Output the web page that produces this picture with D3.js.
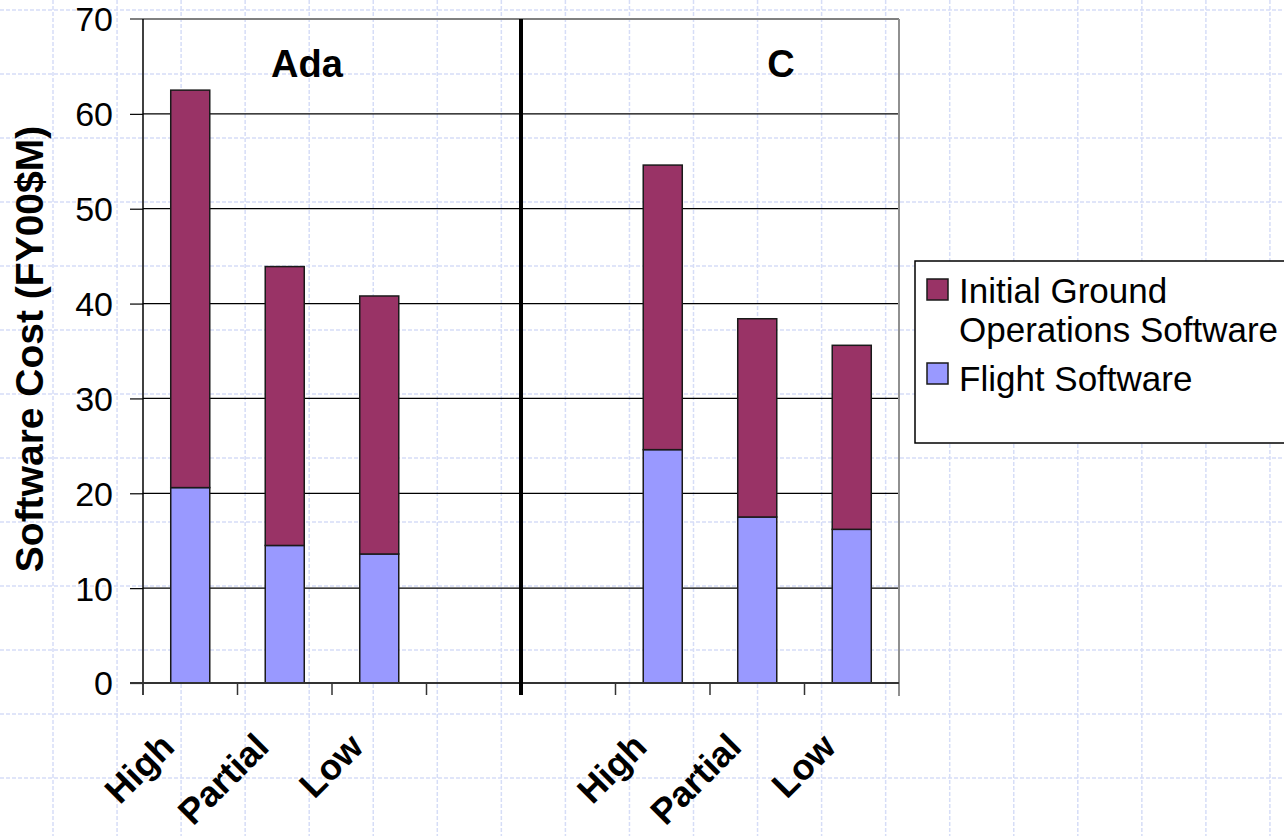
<!DOCTYPE html>
<html>
<head>
<meta charset="utf-8">
<script src="https://cdn.jsdelivr.net/npm/d3@7"></script>
<style>
  html, body { margin: 0; padding: 0; background: #fff; }
  svg { display: block; font-family: "Liberation Sans", Arial, sans-serif; }
</style>
</head>
<body>
<svg id="chart" width="1284" height="836"></svg>
<script>
// ---- data ----
const categories = ["Ada-High", "Ada-Partial", "Ada-Low", "Ada-gap", "C-gap", "C-High", "C-Partial", "C-Low"];
const tickLabels = ["High", "Partial", "Low", "", "", "High", "Partial", "Low"];
const flightSoftware = [20.6, 14.5, 13.6, null, null, 24.6, 17.5, 16.2];
const groundSoftware = [41.9, 29.4, 27.2, null, null, 30.0, 20.9, 19.4];
const seriesNames = ["Flight Software", "Initial Ground Operations Software"];
const seriesKeys = ["flight", "ground"];
const groupLabels = ["Ada", "C"];
const yTicks = [0, 10, 20, 30, 40, 50, 60, 70];

const colors = { flight: "#9999FF", ground: "#993366" };

const W = 1284, H = 836;
const plot = { left: 143, right: 899, top: 19, bottom: 683 };

const svg = d3.select("#chart");

// ---- background dashed grid ----
const bg = svg.append("g");
const gx0 = 53, gdx = 64.05, gy0 = 10, gdy = 64;
for (let x = gx0; x < W; x += gdx) {
  bg.append("line").attr("x1", x).attr("x2", x).attr("y1", 0).attr("y2", H)
    .attr("stroke", "#d6ddf7").attr("stroke-width", 1.5).attr("stroke-dasharray", "4,2");
}
for (let y = gy0; y < H; y += gdy) {
  bg.append("line").attr("x1", 0).attr("x2", W).attr("y1", y).attr("y2", y)
    .attr("stroke", "#d6ddf7").attr("stroke-width", 1.5).attr("stroke-dasharray", "4,2");
}

// ---- scales ----
const x = d3.scaleBand().domain(categories).range([plot.left, plot.right])
  .paddingInner(0.587).paddingOuter(0.2935);
const y = d3.scaleLinear().domain([0, 70]).range([plot.bottom, plot.top]);

const step = x.step();
const boundary = i => plot.left + i * step;

// ---- gridlines ----
const grid = svg.append("g");
yTicks.filter(v => v > 0 && v < 70).forEach(v => {
  grid.append("line").attr("x1", plot.left).attr("x2", plot.right)
    .attr("y1", y(v)).attr("y2", y(v)).attr("stroke", "#000").attr("stroke-width", 1.2);
});

// ---- bars ----
const table = categories.map((c, i) => ({ cat: c, flight: flightSoftware[i] || 0, ground: groundSoftware[i] || 0 }));
const stacked = d3.stack().keys(seriesKeys)(table);
svg.append("g").selectAll("g").data(stacked).join("g")
  .attr("fill", d => colors[d.key])
  .selectAll("rect").data(d => d.filter(p => p[1] - p[0] > 0)).join("rect")
  .attr("x", d => x(d.data.cat))
  .attr("width", x.bandwidth())
  .attr("y", d => y(d[1]))
  .attr("height", d => y(d[0]) - y(d[1]))
  .attr("stroke", "#1a1a1a").attr("stroke-width", 1.5);

// ---- plot frame ----
svg.append("line").attr("x1", plot.left - 13).attr("x2", plot.right)
  .attr("y1", y(70)).attr("y2", y(70)).attr("stroke", "#808080").attr("stroke-width", 2);
svg.append("line").attr("x1", plot.right).attr("x2", plot.right)
  .attr("y1", plot.top).attr("y2", plot.bottom + 13).attr("stroke", "#909090").attr("stroke-width", 2);

// y axis
const yAxis = d3.axisLeft(y).tickValues(yTicks.filter(v => v < 70)).tickSize(13).tickPadding(17);
const yg = svg.append("g").attr("transform", `translate(${plot.left},0)`).call(yAxis);
yg.select(".domain").remove();
yg.selectAll(".tick line").attr("stroke", "#000").attr("stroke-width", 1.2);
yg.append("line").attr("x1", 0).attr("x2", 0).attr("y1", plot.top).attr("y2", plot.bottom + 12)
  .attr("stroke", "#000").attr("stroke-width", 1.5);
yg.append("g").attr("class", "tick").attr("transform", `translate(0,${y(70)})`)
  .append("text").attr("dy", "0.34em").text("70");
yg.selectAll(".tick text").attr("font-size", 34).attr("fill", "#000").attr("dy", "0.35em")
  .attr("font-family", "Liberation Sans, Arial, sans-serif").attr("text-anchor", "end").attr("x", -30);

// x axis
svg.append("line").attr("x1", plot.left - 13).attr("x2", plot.right)
  .attr("y1", plot.bottom).attr("y2", plot.bottom).attr("stroke", "#333").attr("stroke-width", 2);
d3.range(1, categories.length).forEach(i => {
  if (i === 4) return;
  svg.append("line").attr("x1", boundary(i)).attr("x2", boundary(i))
    .attr("y1", plot.bottom).attr("y2", plot.bottom + 12).attr("stroke", "#333").attr("stroke-width", 1.5);
});

const xAxis = d3.axisBottom(x).tickSize(0).tickFormat((d, i) => tickLabels[i]);
const xg = svg.append("g").attr("transform", `translate(0,${plot.bottom})`).call(xAxis);
xg.select(".domain").remove();
xg.selectAll(".tick text")
  .attr("font-size", 36).attr("font-weight", "bold").attr("fill", "#000")
  .attr("font-family", "Liberation Sans, Arial, sans-serif")
  .attr("text-anchor", "end").attr("dy", 0).attr("y", 0)
  .attr("transform", "translate(-14,66) rotate(-45)");

// separator between groups
svg.append("line").attr("x1", boundary(4)).attr("x2", boundary(4))
  .attr("y1", plot.top).attr("y2", plot.bottom + 12).attr("stroke", "#000").attr("stroke-width", 4);

// group labels
svg.append("text").attr("x", 307).attr("y", 77).attr("text-anchor", "middle")
  .attr("font-size", 38).attr("font-weight", "bold").text(groupLabels[0]);
svg.append("text").attr("x", 781).attr("y", 77).attr("text-anchor", "middle")
  .attr("font-size", 38).attr("font-weight", "bold").text(groupLabels[1]);

// y title
svg.append("text").attr("transform", "translate(43,349) rotate(-90)")
  .attr("text-anchor", "middle").attr("font-size", 39).attr("font-weight", "bold")
  .text("Software Cost (FY00$M)");

// ---- legend ----
const lg = svg.append("g");
lg.append("rect").attr("x", 915).attr("y", 261).attr("width", 400).attr("height", 182)
  .attr("fill", "#fff").attr("stroke", "#000").attr("stroke-width", 1.5);
const legendItems = [
  { key: "ground", lines: ["Initial Ground", "Operations Software"], y: 279, base: 303 },
  { key: "flight", lines: ["Flight Software"], y: 363, base: 391 }
];
legendItems.forEach(it => {
  lg.append("rect").attr("x", 927).attr("y", it.y).attr("width", 21).attr("height", 21)
    .attr("fill", colors[it.key]).attr("stroke", "#1a1a1a").attr("stroke-width", 1.5);
  const t = lg.append("text").attr("x", 959).attr("y", it.base).attr("font-size", 35);
  it.lines.forEach((l, j) => t.append("tspan").attr("x", 959).attr("dy", j === 0 ? 0 : 39).text(l));
});
</script>
</body>
</html>
